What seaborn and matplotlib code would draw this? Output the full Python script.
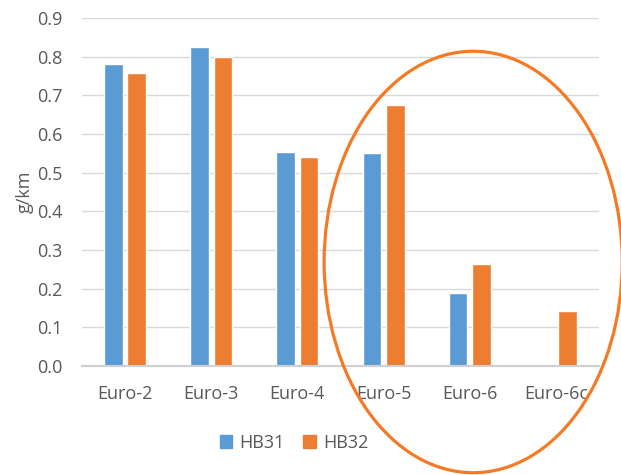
import matplotlib
matplotlib.use("Agg")
import matplotlib.pyplot as plt
from matplotlib.patches import Ellipse
import numpy as np
import pandas as pd
import seaborn as sns

# Emission factors per Euro class
categories = ["Euro-2", "Euro-3", "Euro-4", "Euro-5", "Euro-6", "Euro-6c"]
hb31 = [0.78, 0.824, 0.553, 0.551, 0.190, np.nan]
hb32 = [0.758, 0.800, 0.541, 0.675, 0.263, 0.141]
series = ["HB31", "HB32"]
colors = ["#5B9BD5", "#ED7D31"]
yticks = [0.0, 0.1, 0.2, 0.3, 0.4, 0.5, 0.6, 0.7, 0.8, 0.9]

df = pd.DataFrame({
    "cat": categories * 2,
    "series": [series[0]] * len(categories) + [series[1]] * len(categories),
    "value": hb31 + hb32,
})

sns.set_style("white")
plt.rcParams["font.family"] = ["Open Sans", "DejaVu Sans"]

fig = plt.figure(figsize=(6.21, 4.75), dpi=100)
ax = fig.add_axes([0.132, 0.2295, 0.8326, 0.7326])

sns.barplot(data=df, x="cat", y="value", hue="series", order=categories,
            hue_order=series, palette=colors, width=0.54, gap=0.2,
            saturation=1, ax=ax, legend=False)

fs = 13
ax.set_ylim(0, 0.9)
ax.set_xlim(-0.5, len(categories) - 0.5)
ax.set_yticks(yticks)
ax.set_yticklabels([f"{t:.1f}" for t in yticks])
ax.yaxis.grid(True, color="#D9D9D9", linewidth=1.0)
ax.set_axisbelow(True)
for s in ["top", "right", "left"]:
    ax.spines[s].set_visible(False)
ax.spines["bottom"].set_color("#D0D0D0")
ax.spines["bottom"].set_linewidth(1.5)
ax.tick_params(axis="both", length=0, labelsize=fs, labelcolor="#595959")
ax.tick_params(axis="x", pad=14)
ax.tick_params(axis="y", pad=14)
ax.set_xlabel("")
ax.set_ylabel("g/km", fontsize=fs, color="#595959", labelpad=2)

# Highlight ring around the newer Euro classes
ring = Ellipse((4.04, 0.269), width=3.46, height=1.09, fill=False,
               edgecolor="#F47A25", linewidth=2.3, clip_on=False, zorder=5)
ax.add_patch(ring)

handles = [plt.Rectangle((0, 0), 1, 1, color=c) for c in colors]
fig.legend(handles, series, loc="center", bbox_to_anchor=(0.4734, 0.068),
           ncol=2, frameon=False, handlelength=0.7, handleheight=0.7,
           handletextpad=0.4, columnspacing=1.0,
           prop={"size": fs}, labelcolor="#595959")

fig.savefig("out.png", dpi=100)
